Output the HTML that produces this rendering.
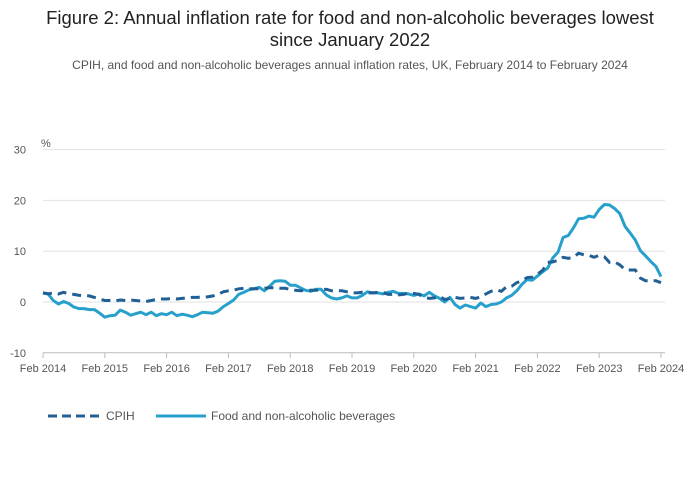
<!DOCTYPE html>
<html><head><meta charset="utf-8"><style>
body{margin:0;background:#fff;font-family:"Liberation Sans","DejaVu Sans",sans-serif;}
#wrap{position:relative;width:700px;height:502px;overflow:hidden}
</style></head><body>
<div id="wrap">
<svg id="chart" width="700" height="502">
<text x="350" y="24" text-anchor="middle" font-size="18.5" fill="#222">Figure 2: Annual inflation rate for food and non-alcoholic beverages lowest</text>
<text x="350" y="46" text-anchor="middle" font-size="18.5" fill="#222">since January 2022</text>
<text x="350" y="69" text-anchor="middle" font-size="12" fill="#555">CPIH, and food and non-alcoholic beverages annual inflation rates, UK, February 2014 to February 2024</text>
<text x="41" y="147" font-size="11" fill="#555">%</text>
<g id="grid"></g><g id="xaxis"></g><g id="series"></g>
<g>
<line x1="48" y1="416" x2="100" y2="416" stroke="#206095" stroke-width="3" stroke-dasharray="9,5"/>
<text x="106" y="420" font-size="12" fill="#555">CPIH</text>
<line x1="156" y1="416" x2="206" y2="416" stroke="#27a0cc" stroke-width="3"/>
<text x="211" y="420" font-size="12" fill="#555">Food and non-alcoholic beverages</text>
</g>
</svg></div>
<script>
const yTicks=[30,20,10,0,-10];
const xTickLabels=["Feb 2014","Feb 2015","Feb 2016","Feb 2017","Feb 2018","Feb 2019","Feb 2020","Feb 2021","Feb 2022","Feb 2023","Feb 2024"];
const cpih=[1.8,1.6,1.8,1.6,1.9,1.6,1.5,1.3,1.3,1.2,0.9,0.6,
0.3,0.3,0.2,0.4,0.3,0.4,0.3,0.2,0.1,0.3,0.5,0.6,
0.6,0.7,0.6,0.7,0.8,0.9,0.9,1.0,1.0,1.2,1.5,2.0,
2.2,2.3,2.6,2.7,2.6,2.6,2.6,2.7,2.8,2.8,2.7,2.7,
2.5,2.3,2.2,2.3,2.3,2.3,2.4,2.5,2.2,2.2,2.2,2.0,
1.8,1.8,1.9,1.8,1.8,1.9,1.9,1.5,1.5,1.4,1.5,1.8,
1.7,1.5,0.9,0.7,0.8,1.1,0.5,0.7,0.9,0.7,0.8,0.9,
0.7,1.0,1.6,2.1,2.4,2.1,3.0,3.1,3.8,4.2,4.8,4.9,
5.5,6.2,7.8,7.9,8.2,8.8,8.6,8.8,9.6,9.3,9.2,8.8,
9.2,8.9,7.8,7.9,7.3,6.4,6.3,6.3,4.7,4.2,4.2,4.2,
3.8];
const food=[1.8,1.6,0.3,-0.4,0.1,-0.3,-1.0,-1.3,-1.3,-1.5,-1.5,-2.2,
-3.0,-2.7,-2.6,-1.6,-2.0,-2.6,-2.3,-2.0,-2.5,-2.0,-2.7,-2.3,
-2.5,-2.0,-2.7,-2.4,-2.6,-2.9,-2.5,-2.0,-2.1,-2.2,-1.8,-0.9,
-0.3,0.4,1.5,1.9,2.4,2.6,2.9,2.2,3.1,4.1,4.2,4.1,
3.3,3.3,2.8,2.3,2.1,2.5,2.5,1.4,0.8,0.6,0.8,1.2,
0.8,0.8,1.3,2.0,1.8,1.8,1.6,1.9,2.1,1.7,1.7,1.6,
1.3,1.6,1.2,1.9,1.2,0.7,0.0,0.9,-0.5,-1.2,-0.6,-0.9,
-1.2,-0.2,-0.9,-0.5,-0.4,0.0,0.8,1.3,2.2,3.5,4.4,4.3,
5.1,5.9,6.7,8.7,9.8,12.7,13.1,14.6,16.4,16.5,16.9,16.7,
18.2,19.2,19.1,18.4,17.4,14.9,13.6,12.2,10.1,9.1,8.0,7.0,
5.0];
const X0=43,X1=661,Y0=302,PXU=5.08;
const xs=i=>X0+(X1-X0)*i/120;
const ys=v=>Y0-v*PXU;
const NS="http://www.w3.org/2000/svg";
function mk(t,a,p){const e=document.createElementNS(NS,t);for(const k in a)e.setAttribute(k,a[k]);p.appendChild(e);return e;}
const grid=document.getElementById('grid');
yTicks.forEach(v=>{
 const l=mk('line',{x1:X0,x2:665,y1:ys(v),y2:ys(v),stroke:v===-10?'#bbb':'#e2e2e2','stroke-width':1},grid);
 
 
 const t=mk('text',{x:26,y:ys(v)+4,'text-anchor':'end','font-size':11,fill:'#555'},grid);
 t.textContent=v;
 
 
});
const xa=document.getElementById('xaxis');
xTickLabels.forEach((s,k)=>{
 const x=xs(k*12);
 const l=mk('line',{x1:x,x2:x,y1:353,y2:358,stroke:'#bbb'},xa);
 
 
 const t=mk('text',{x:x,y:372,'text-anchor':'middle','font-size':11,fill:'#555'},xa);
 t.textContent=s;
 
 
});
const sg=document.getElementById('series');
const pts=a=>a.map((v,i)=>xs(i).toFixed(1)+','+ys(v).toFixed(1)).join(' ');
const f=mk('polyline',{points:pts(food),fill:'none',stroke:'#27a0cc','stroke-width':3,'stroke-linejoin':'round'},sg);


const c=mk('polyline',{points:pts(cpih),fill:'none',stroke:'#206095','stroke-width':3,'stroke-dasharray':'9,6'},sg);


</script>
</body></html>
